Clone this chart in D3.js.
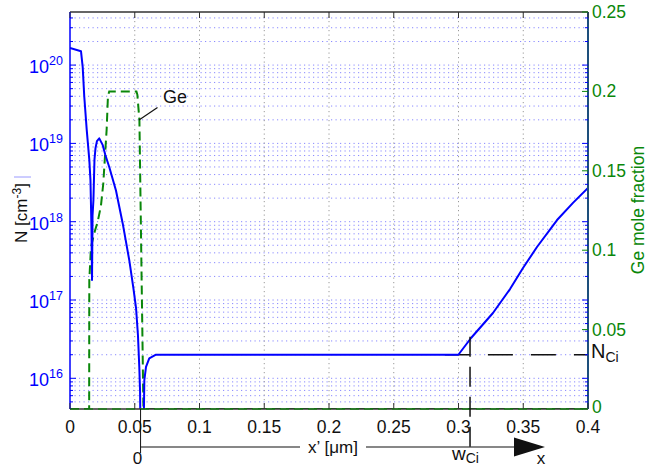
<!DOCTYPE html>
<html><head><meta charset="utf-8">
<script src="https://cdn.jsdelivr.net/npm/d3@7"></script>
<style>
body{margin:0;background:#fff}
svg{display:block}
text{font-family:"Liberation Sans",Arial,Helvetica,sans-serif}
</style>
</head><body>
<svg id="c" width="658" height="468"></svg>
<script>
// ---------- data ----------
const xTicks = [0, 0.05, 0.1, 0.15, 0.2, 0.25, 0.3, 0.35, 0.4];
const xTickLabels = ["0", "0.05", "0.1", "0.15", "0.2", "0.25", "0.3", "0.35", "0.4"];
const nDecades = [16, 17, 18, 19, 20];
const geTicks = [0, 0.05, 0.1, 0.15, 0.2, 0.25];
const geTickLabels = ["0", "0.05", "0.1", "0.15", "0.2", "0.25"];

// net doping N [cm^-3] vs depth x [um]
const nX = [0, 0.0085, 0.0098, 0.011, 0.0129, 0.0149, 0.0158, 0.0166, 0.0170, 0.0174, 0.0181, 0.0189,
  0.0197, 0.0208, 0.0226, 0.0253, 0.0273, 0.0303, 0.0355, 0.0407, 0.0458, 0.0490, 0.0510, 0.0525,
  0.0535, 0.0541, 0.0546, 0.0566, 0.0574, 0.0587, 0.0612, 0.0664, 0.0750, 0.2999, 0.3097, 0.3266,
  0.3398, 0.3498, 0.3606, 0.3761, 0.3884, 0.4];
const nVal = [1.65e20, 1.5e20, 9.5e19, 4e19, 1.5e19, 6.2e18, 3.4e18, 7.8e17, 1.8e17, 1.2e18, 1.9e18, 6.2e18,
  8.7e18, 1.07e19, 1.16e19, 9.5e18, 7.1e18, 5e18, 2.5e18, 9.5e17, 3.2e17, 1.4e17, 7.9e16, 3.5e16,
  1.4e16, 7e15, 1e15, 1e15, 9.5e15, 1.4e16, 1.8e16, 2e16, 2e16, 2e16, 3.27e16, 6.82e16,
  1.38e17, 2.56e17, 4.75e17, 1.05e18, 1.74e18, 2.7e18];

// Ge mole fraction vs depth x [um]
const geX = [0, 0.0148, 0.0149, 0.0162, 0.0188, 0.0214, 0.0239, 0.0257, 0.0273, 0.0283, 0.0293, 0.0303,
  0.0513, 0.0520, 0.0536, 0.0567, 0.4];
const geVal = [0, 0, 0.081, 0.102, 0.111, 0.118, 0.128, 0.142, 0.163, 0.176, 0.197, 0.200,
  0.200, 0.198, 0.182, 0, 0];

const nCi = 2e16;       // N_Ci level
const wCi = 0.3089;     // w_Ci position
const xPrime0 = 0.0545; // origin of x'

// ---------- layout ----------
const L = 70, R = 588, T = 12, B = 409;
const BLUE = "#0000ff", GREEN = "#0a870a", FRAME = "#333333";
const svg = d3.select("#c");

const x = d3.scaleLinear().domain([0, 0.4]).range([L, R]);
const yL = d3.scaleLog().domain([Math.pow(10, 15.608), Math.pow(10, 20.678)]).range([B, T]);
const yR = d3.scaleLinear().domain([0, 0.25]).range([B, T]);

svg.append("defs").append("clipPath").attr("id", "clip")
  .append("rect").attr("x", L).attr("y", T).attr("width", R - L).attr("height", B - T);

// ---------- grid ----------
const minorVals = [];
for (let d = 15; d <= 20; d++) for (let m = 1; m <= 9; m++) {
  const v = m * Math.pow(10, d);
  if (v >= yL.domain()[0] && v <= yL.domain()[1]) minorVals.push({v, major: m === 1});
}
const grid = svg.append("g");
grid.selectAll("line.h").data(minorVals).join("line")
  .attr("x1", L).attr("x2", R)
  .attr("y1", d => yL(d.v)).attr("y2", d => yL(d.v))
  .attr("stroke", "#3a3aff").attr("stroke-opacity", 0.6)
  .attr("stroke-width", 1).attr("stroke-dasharray", "1.2,3.3");
grid.selectAll("line.v").data(xTicks.slice(1, -1)).join("line")
  .attr("x1", d => x(d)).attr("x2", d => x(d))
  .attr("y1", T).attr("y2", B)
  .attr("stroke", "#999").attr("stroke-width", 1).attr("stroke-dasharray", "1.2,3.3");

// ---------- annotations (under curves) ----------
const ann = svg.append("g");
ann.append("line")
  .attr("x1", x(0.2895)).attr("x2", R)
  .attr("y1", yL(nCi)).attr("y2", yL(nCi))
  .attr("stroke", "#111").attr("stroke-width", 1.5).attr("stroke-dasharray", "25,18");

// ---------- curves ----------
const plot = svg.append("g").attr("clip-path", "url(#clip)");
const geLine = d3.line().x((d, i) => x(geX[i])).y((d, i) => yR(geVal[i]));
plot.append("path").attr("d", geLine(geX))
  .attr("fill", "none").attr("stroke", GREEN).attr("stroke-width", 2)
  .attr("stroke-dasharray", "9,5");
const nLine = d3.line().x((d, i) => x(nX[i])).y((d, i) => yL(nVal[i]));
plot.append("path").attr("d", nLine(nX))
  .attr("fill", "none").attr("stroke", BLUE).attr("stroke-width", 2)
  .attr("stroke-linejoin", "round");

// ---------- frame & ticks ----------
const fr = svg.append("g");
fr.append("line").attr("x1", L).attr("x2", R).attr("y1", T).attr("y2", T).attr("stroke", FRAME).attr("stroke-width", 1.5);
fr.append("line").attr("x1", L).attr("x2", R).attr("y1", B).attr("y2", B).attr("stroke", FRAME).attr("stroke-width", 1.5);
fr.append("line").attr("x1", x(0)).attr("x2", x(0.4)).attr("y1", B).attr("y2", B)
  .attr("stroke", GREEN).attr("stroke-width", 1.5).attr("stroke-dasharray", "9,5").attr("opacity", 0.8);
fr.append("line").attr("x1", L).attr("x2", L).attr("y1", T).attr("y2", B).attr("stroke", BLUE).attr("stroke-width", 1.5);
fr.append("line").attr("x1", R).attr("x2", R).attr("y1", T).attr("y2", B).attr("stroke", "#1d4f7c").attr("stroke-width", 2);

// x ticks
fr.selectAll("line.xt").data(xTicks).join("line")
  .attr("x1", d => x(d)).attr("x2", d => x(d)).attr("y1", B).attr("y2", B - 6)
  .attr("stroke", FRAME);
fr.selectAll("line.xt2").data(xTicks).join("line")
  .attr("x1", d => x(d)).attr("x2", d => x(d)).attr("y1", T).attr("y2", T + 6)
  .attr("stroke", FRAME);
// left log ticks (both sides)
fr.selectAll("line.lt").data(minorVals).join("line")
  .attr("x1", L).attr("x2", d => L + (d.major ? 6 : 3))
  .attr("y1", d => yL(d.v)).attr("y2", d => yL(d.v)).attr("stroke", BLUE);
fr.selectAll("line.lt2").data(minorVals).join("line")
  .attr("x1", R).attr("x2", d => R - (d.major ? 6 : 3))
  .attr("y1", d => yL(d.v)).attr("y2", d => yL(d.v)).attr("stroke", BLUE);
// right Ge ticks
fr.selectAll("line.rt").data(geTicks).join("line")
  .attr("x1", R).attr("x2", R - 6)
  .attr("y1", d => yR(d)).attr("y2", d => yR(d)).attr("stroke", GREEN);

// x tick labels
svg.append("g").selectAll("text").data(xTicks).join("text")
  .attr("x", d => x(d)).attr("y", 433)
  .attr("text-anchor", "middle").attr("font-size", 17.5).attr("fill", "#111")
  .text((d, i) => xTickLabels[i]);

// left tick labels 10^n
const lt = svg.append("g").selectAll("text").data(nDecades).join("text")
  .attr("x", 63).attr("y", d => yL(Math.pow(10, d)) + 8)
  .attr("text-anchor", "end").attr("fill", BLUE).attr("font-size", 18);
lt.append("tspan").text("10");
lt.append("tspan").attr("dy", -8).attr("font-size", 12.5).text(d => d);

// right tick labels
svg.append("g").selectAll("text").data(geTicks).join("text")
  .attr("x", 592).attr("y", d => yR(d) + (d === 0 ? 4 : 6))
  .attr("fill", GREEN).attr("font-size", 17.5)
  .text((d, i) => geTickLabels[i]);

// axis titles
const yt = svg.append("text").attr("transform", "translate(27,213) rotate(-90)")
  .attr("text-anchor", "middle").attr("font-size", 17).attr("fill", "#111");
yt.append("tspan").text("N [cm");
yt.append("tspan").attr("dy", -6).attr("font-size", 12).text("-3");
yt.append("tspan").attr("dy", 6).text("]");
svg.append("line").attr("x1", 14).attr("x2", 31).attr("y1", 177).attr("y2", 177)
  .attr("stroke", "#9a9aff").attr("stroke-width", 1);

svg.append("text").attr("transform", "translate(644,210) rotate(-90)")
  .attr("text-anchor", "middle").attr("font-size", 17.5).attr("fill", GREEN)
  .text("Ge mole fraction");

// Ge label with leader
svg.append("text").attr("x", 163).attr("y", 103).attr("font-size", 18).attr("fill", "#111").text("Ge");
svg.append("line").attr("x1", 157.5).attr("y1", 107.5).attr("x2", 139).attr("y2", 120)
  .attr("stroke", "#111").attr("stroke-width", 1.2);

// N_Ci label
const nl = svg.append("text").attr("x", 591).attr("y", yL(nCi) + 3)
  .attr("font-family", "'Liberation Serif','Times New Roman',serif").attr("font-size", 20).attr("fill", "#111");
nl.append("tspan").text("N");
nl.append("tspan").attr("dy", 4).attr("font-size", 14).text("Ci");

// x' axis below
const arrowY = 447;
const bot = svg.append("g").attr("stroke", "#111");
bot.append("line").attr("x1", x(wCi)).attr("x2", x(wCi)).attr("y1", yL(nCi) - 18).attr("y2", arrowY + 8)
  .attr("stroke-width", 1.5).attr("stroke-dasharray", "20,10");
bot.append("line").attr("x1", x(xPrime0)).attr("x2", x(xPrime0)).attr("y1", B).attr("y2", arrowY + 6)
  .attr("stroke-width", 1);
bot.append("line").attr("x1", x(xPrime0)).attr("x2", 300).attr("y1", arrowY).attr("y2", arrowY).attr("stroke-width", 1.2);
bot.append("line").attr("x1", 366).attr("x2", 516).attr("y1", arrowY).attr("y2", arrowY).attr("stroke-width", 1.2);
svg.append("path")
  .attr("d", `M514,${arrowY - 9.5}L545,${arrowY}L514,${arrowY + 9.5}Z`)
  .attr("fill", "#111");
svg.append("text").attr("x", 333).attr("y", arrowY + 6).attr("text-anchor", "middle")
  .attr("font-size", 17).attr("fill", "#111").text("x’ [μm]");
svg.append("text").attr("x", x(xPrime0) - 3).attr("y", 464).attr("text-anchor", "middle")
  .attr("font-size", 17).attr("fill", "#111").text("0");
svg.append("text").attr("x", 541).attr("y", 464).attr("text-anchor", "middle")
  .attr("font-size", 17).attr("fill", "#111").text("x");
const wl = svg.append("text").attr("x", 452).attr("y", 460)
  .attr("font-family", "'Liberation Serif','Times New Roman',serif").attr("font-size", 19).attr("fill", "#111");
wl.append("tspan").text("w");
wl.append("tspan").attr("dy", 3).attr("font-size", 14).text("Ci");
</script>
</body></html>
